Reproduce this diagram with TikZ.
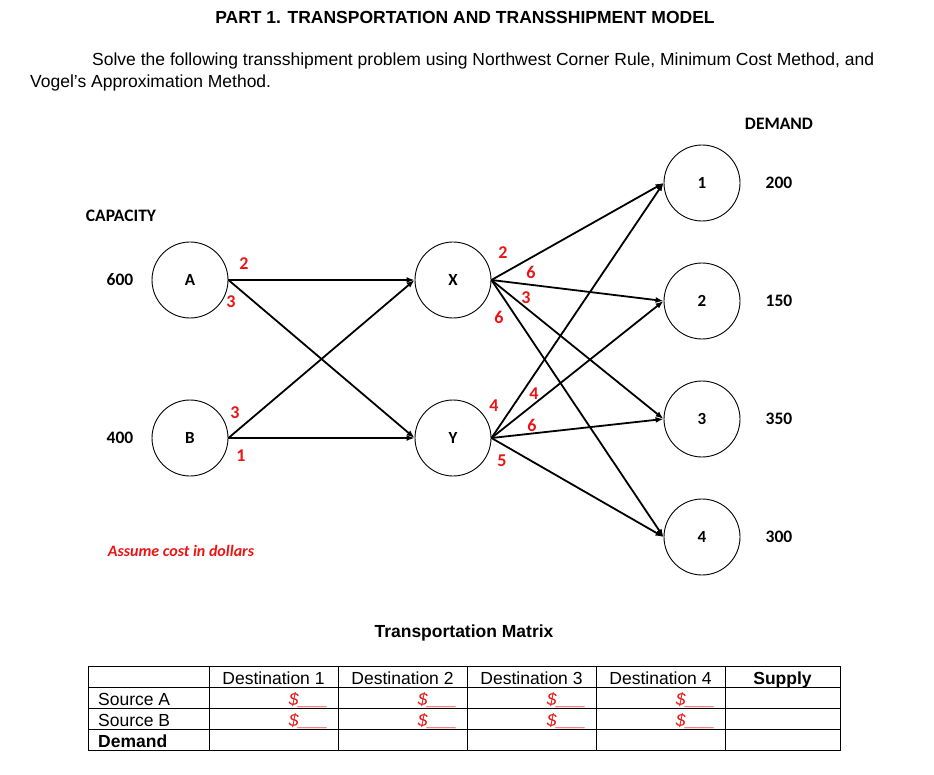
\documentclass[tikz,border=0pt]{standalone}
\usepackage{fontspec}
\setmainfont{Liberation Sans}
\newfontfamily\calibri{Carlito}
\usetikzlibrary{arrows.meta}
\definecolor{costred}{RGB}{235,20,20}
\begin{document}
\begin{tikzpicture}[x=1pt,y=-1pt,
  site/.style={circle,draw,line width=0.9pt,minimum size=76pt,inner sep=0pt,font=\calibri\bfseries\fontsize{17}{19}\selectfont},
  flow/.style={line width=1.8pt,-{Latex[length=8pt,width=6pt]}},
  cost/.style={font=\calibri\bfseries\fontsize{18}{20}\selectfont,text=costred,inner sep=0pt},
  side/.style={font=\calibri\bfseries\fontsize{17.5}{20}\selectfont,inner sep=0pt},
  cell/.style={font=\fontsize{17.5}{20}\selectfont,inner sep=0pt,anchor=base},
  money/.style={font=\itshape\fontsize{17.5}{20}\selectfont,text=costred,inner sep=0pt,anchor=base east},
  grid/.style={line width=0.9pt}]
\useasboundingbox (0,0) rectangle (934,775);
% texts
\node[font=\bfseries\fontsize{17.5}{20}\selectfont] (title) at (465,17) {PART 1. TRANSPORTATION AND TRANSSHIPMENT MODEL};
\node[font=\fontsize{17.5}{20}\selectfont,anchor=west,inner sep=0pt] (p1) at (92,61) {Solve the following transshipment problem using Northwest Corner Rule, Minimum Cost Method, and};
\node[font=\fontsize{17.5}{20}\selectfont,anchor=west,inner sep=0pt] (p2) at (30,83) {Vogel’s Approximation Method.};
% nodes
\node[site] (A) at (190,280) {A};
\node[site] (B) at (190,438) {B};
\node[site] (X) at (453,280) {X};
\node[site] (Y) at (453,438) {Y};
\node[site] (D1) at (702,183) {1};
\node[site] (D2) at (702,301) {2};
\node[site] (D3) at (702,419) {3};
\node[site] (D4) at (702,537) {4};
\node[side] (cap) at (121,216) {CAPACITY};
\node[side] (sA) at (120,280) {600};
\node[side] (sB) at (120,438) {400};
\node[side] (dem) at (779,124) {DEMAND};
\node[side] (d1) at (779,183) {200};
\node[side] (d2) at (779,301) {150};
\node[side] (d3) at (779,419) {350};
\node[side] (d4) at (779,537) {300};
% connectors
\draw[flow] (A.east) -- (X.west);
\draw[flow] (A.east) -- (Y.west);
\draw[flow] (B.east) -- (X.west);
\draw[flow] (B.east) -- (Y.west);
\foreach \d in {D1,D2,D3,D4}{
  \draw[flow] (X.east) -- (\d.west);
  \draw[flow] (Y.east) -- (\d.west);
}
% costs
\node[cost] (cAX) at (244,264) {2};
\node[cost] (cAY) at (231,302) {3};
\node[cost] (cBX) at (235,413) {3};
\node[cost] (cBY) at (241,456) {1};
\node[cost] (cX1) at (503,253) {2};
\node[cost] (cX2) at (531,272) {6};
\node[cost] (cX3) at (526,298) {3};
\node[cost] (cX4) at (499,317) {6};
\node[cost] (cY1) at (494,406) {4};
\node[cost] (cY2) at (534,394) {4};
\node[cost] (cY3) at (532,425) {6};
\node[cost] (cY4) at (502,461) {5};
\node[font=\calibri\bfseries\itshape\fontsize{16}{18}\selectfont,text=costred] (note) at (181,551) {Assume cost in dollars};
% matrix
\node[font=\bfseries\fontsize{17.5}{20}\selectfont] (mt) at (464,633) {Transportation Matrix};
\draw[grid] (88,666) rectangle (840,750);
\foreach \y in {687,708,729} \draw[grid] (88,\y) -- (840,\y);
\foreach \x in {209,338,467,596,725} \draw[grid] (\x,666) -- (\x,750);
\node[cell] (h1) at (273.5,684) {Destination 1};
\node[cell] (h2) at (402.5,684) {Destination 2};
\node[cell] (h3) at (531.5,684) {Destination 3};
\node[cell] (h4) at (660.5,684) {Destination 4};
\node[cell,font=\bfseries\fontsize{17.5}{20}\selectfont] (h5) at (782.5,684) {Supply};
\node[cell,anchor=base west] (rA) at (98,705) {Source A};
\node[cell,anchor=base west] (rB) at (98,726) {Source B};
\node[cell,anchor=base west,font=\bfseries\fontsize{17.5}{20}\selectfont] (rD) at (98,747) {Demand};
\foreach \x in {338,467,596,725}{
  \node[money] at (\x-10,705) {\$\_\_\_};
  \node[money] at (\x-10,726) {\$\_\_\_};
}
\end{tikzpicture}
\end{document}
